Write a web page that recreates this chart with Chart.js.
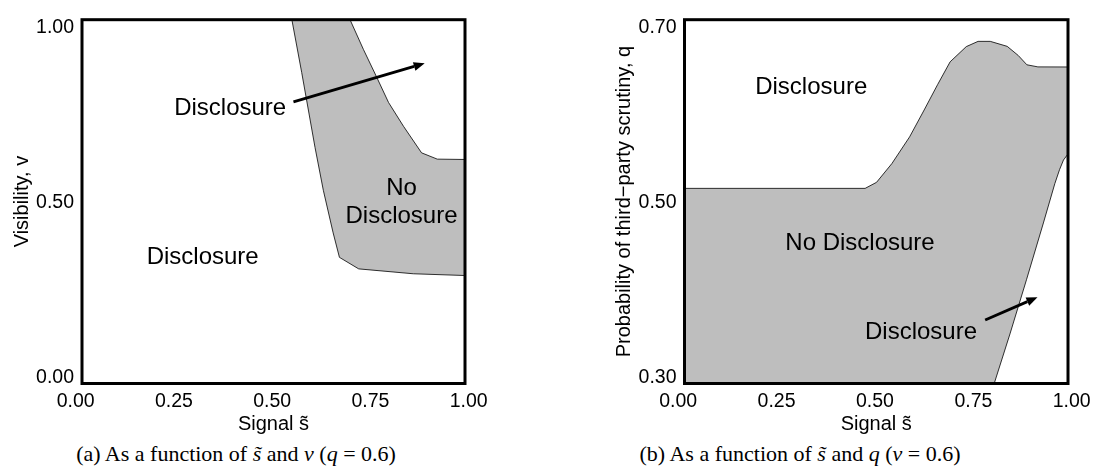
<!DOCTYPE html>
<html>
<head>
<meta charset="utf-8">
<script src="https://cdn.jsdelivr.net/npm/chart.js@4.4.0/dist/chart.umd.min.js"></script>
<style>
  body { margin: 0; width: 1094px; height: 471px; background: #fff; position: relative; overflow: hidden; }
  #left { position: absolute; left: 0; top: 0; }
  #right { position: absolute; left: 547px; top: 0; }
  .cap { position: absolute; top: 441px; font-family: "Liberation Serif", "Times New Roman", serif; font-size: 22px;
         white-space: nowrap; transform: translateX(-50%); color: #000; }
</style>
</head>
<body>
<canvas id="left" width="547" height="440"></canvas>
<canvas id="right" width="547" height="440"></canvas>
<div class="cap" style="left:236px">(a) As a function of <i>s&#771;</i> and <i>v</i> (<i>q</i> = 0.6)</div>
<div class="cap" style="left:800px">(b) As a function of <i>s&#771;</i> and <i>q</i> (<i>v</i> = 0.6)</div>
<script>
// tick labels
const sTicks = [0, 0.25, 0.5, 0.75, 1];
const vTicks = [0, 0.5, 1];
const qTicks = [0.3, 0.5, 0.7];

// axis limits (the frame is a bit off the tick values)
const sMin = 0.016, sMax = 0.9905;
const vMin = -0.0169, vMax = 1.0239;
const qMin = 0.2933, qMax = 0.7096;

// (a) No Disclosure area: upper/right edge, from top to the right side
const aUpperS = [0.698, 0.732, 0.766, 0.796, 0.834, 0.880, 0.920, 0.9905];
const aUpperV = [1.0239, 0.939, 0.859, 0.787, 0.719, 0.643, 0.625, 0.624];
// (a) left/lower edge, from top down to the right side
const aLowerS = [0.550, 0.575, 0.609, 0.630, 0.655, 0.671, 0.720, 0.859, 0.9905];
const aLowerV = [1.0239, 0.873, 0.658, 0.536, 0.414, 0.344, 0.311, 0.297, 0.292];

// (b) No Disclosure area: upper edge, left to right
const bUpperS = [0.016, 0.475, 0.504, 0.543, 0.588, 0.625, 0.659, 0.691, 0.732, 0.762, 0.793, 0.836, 0.864, 0.886, 0.914, 0.9905];
const bUpperQ = [0.5166, 0.5166, 0.5235, 0.545, 0.5755, 0.6063, 0.6352, 0.6614, 0.6788, 0.6848, 0.6848, 0.6791, 0.6687, 0.658, 0.6556, 0.6555];
// (b) right edge, bottom to top
const bRightS = [0.803, 0.843, 0.885, 0.928, 0.957, 0.969, 0.979, 0.9905];
const bRightQ = [0.2933, 0.350, 0.412, 0.477, 0.522, 0.538, 0.549, 0.556];

// region labels and arrows
const aLabels = ["Disclosure", "No", "Disclosure", "Disclosure"];
const aLabelS = [0.393, 0.829, 0.829, 0.323];
const aLabelV = [0.770, 0.541, 0.461, 0.343];
const aArrow = [[0.554, 0.789], [0.888, 0.899]];

const bLabels = ["Disclosure", "No Disclosure", "Disclosure"];
const bLabelS = [0.338, 0.462, 0.617];
const bLabelQ = [0.632, 0.454, 0.352];
const bArrow = [[0.780, 0.366], [0.913, 0.392]];

const sans = "'Liberation Sans', Arial, sans-serif";
const tickFont = { family: sans, size: 19.5 };
const titleFont = { family: sans, size: 20 };

function zip(xs, ys) {
  return xs.map((x, i) => ({ x: x, y: ys[i] }));
}

const shapeA = zip(aUpperS, aUpperV).concat(zip(aLowerS, aLowerV).reverse());
const shapeB = [{ x: sMin, y: qMin }]
  .concat(zip(bUpperS, bUpperQ))
  .concat(zip(bRightS, bRightQ).reverse());

const frame = {
  id: "frame",
  afterDatasetsDraw(chart) {
    const a = chart.chartArea;
    const ctx = chart.ctx;
    ctx.save();
    ctx.lineWidth = 3;
    ctx.strokeStyle = "#000";
    ctx.strokeRect(a.left, a.top, a.right - a.left, a.bottom - a.top);
    ctx.restore();
  },
};

function notes(labels, ls, ly, arrow) {
  return {
    id: "notes",
    afterDraw(chart) {
      const x = chart.scales.x, y = chart.scales.y, ctx = chart.ctx;
      ctx.save();
      ctx.fillStyle = "#000";
      ctx.font = "24px " + sans;
      ctx.textAlign = "center";
      ctx.textBaseline = "middle";
      labels.forEach((t, i) => {
        ctx.fillText(t, x.getPixelForValue(ls[i]), y.getPixelForValue(ly[i]));
      });
      let x0 = x.getPixelForValue(arrow[0][0]), y0 = y.getPixelForValue(arrow[0][1]);
      let x1 = x.getPixelForValue(arrow[1][0]), y1 = y.getPixelForValue(arrow[1][1]);
      let ang = Math.atan2(y1 - y0, x1 - x0);
      let hl = 11, hw = 4.5;
      let bx = x1 - hl * Math.cos(ang), by = y1 - hl * Math.sin(ang);
      ctx.strokeStyle = "#000";
      ctx.lineWidth = 2.8;
      ctx.beginPath();
      ctx.moveTo(x0, y0);
      ctx.lineTo(bx, by);
      ctx.stroke();
      ctx.beginPath();
      ctx.moveTo(x1, y1);
      ctx.lineTo(bx - hw * Math.sin(ang), by + hw * Math.cos(ang));
      ctx.lineTo(bx + hw * Math.sin(ang), by - hw * Math.cos(ang));
      ctx.closePath();
      ctx.fill();
      ctx.restore();
    },
  };
}

function panel(id, p) {
  return new Chart(document.getElementById(id), {
    type: "scatter",
    data: {
      datasets: [
        {
          data: p.shape,
          showLine: true,
          fill: "shape",
          backgroundColor: "#bebebe",
          borderColor: "#000",
          borderWidth: 0.8,
          pointRadius: 0,
          tension: 0,
          clip: 0,
        },
      ],
    },
    options: {
      responsive: false,
      animation: false,
      events: [],
      layout: { padding: { top: 13, right: p.padRight, left: 0, bottom: 0 } },
      plugins: {
        legend: { display: false },
        tooltip: { enabled: false },
      },
      scales: {
        x: {
          type: "linear",
          min: sMin,
          max: sMax,
          grid: { display: false, drawTicks: false },
          border: { display: false },
          afterBuildTicks: (s) => { s.ticks = sTicks.map((v) => ({ value: v })); },
          afterFit: (s) => { s.height = 56.5; s.paddingLeft = 0; s.paddingRight = 0; },
          ticks: { autoSkip: false, maxRotation: 0, padding: 6, color: "#000", font: tickFont,
                   callback: (v) => v.toFixed(2) },
          title: { display: true, text: "Signal s\u0303", color: "#000", font: titleFont,
                   padding: { top: 0, bottom: 4 } },
        },
        y: {
          type: "linear",
          min: p.yMin,
          max: p.yMax,
          grid: { display: false, drawTicks: false },
          border: { display: false },
          afterBuildTicks: (s) => { s.ticks = p.yTicks.map((v) => ({ value: v })); },
          afterFit: (s) => { s.width = p.yWidth; },
          ticks: { autoSkip: false, padding: 8, color: "#000", font: tickFont,
                   callback: (v) => v.toFixed(2) },
          title: { display: true, text: p.yTitle, color: "#000", font: titleFont,
                   padding: { top: p.titlePad, bottom: 0 } },
        },
      },
    },
    plugins: [frame, notes(p.labels, p.labelS, p.labelY, p.arrow)],
  });
}

panel("left", {
  shape: shapeA, yMin: vMin, yMax: vMax, yTicks: vTicks, yWidth: 82, padRight: 82,
  yTitle: "Visibility, v", titlePad: 10,
  labels: aLabels, labelS: aLabelS, labelY: aLabelV, arrow: aArrow,
});

panel("right", {
  shape: shapeB, yMin: qMin, yMax: qMax, yTicks: qTicks, yWidth: 137.5, padRight: 26,
  yTitle: "Probability of third\u2212party scrutiny, q", titlePad: 65.5,
  labels: bLabels, labelS: bLabelS, labelY: bLabelQ, arrow: bArrow,
});
</script>
</body>
</html>
